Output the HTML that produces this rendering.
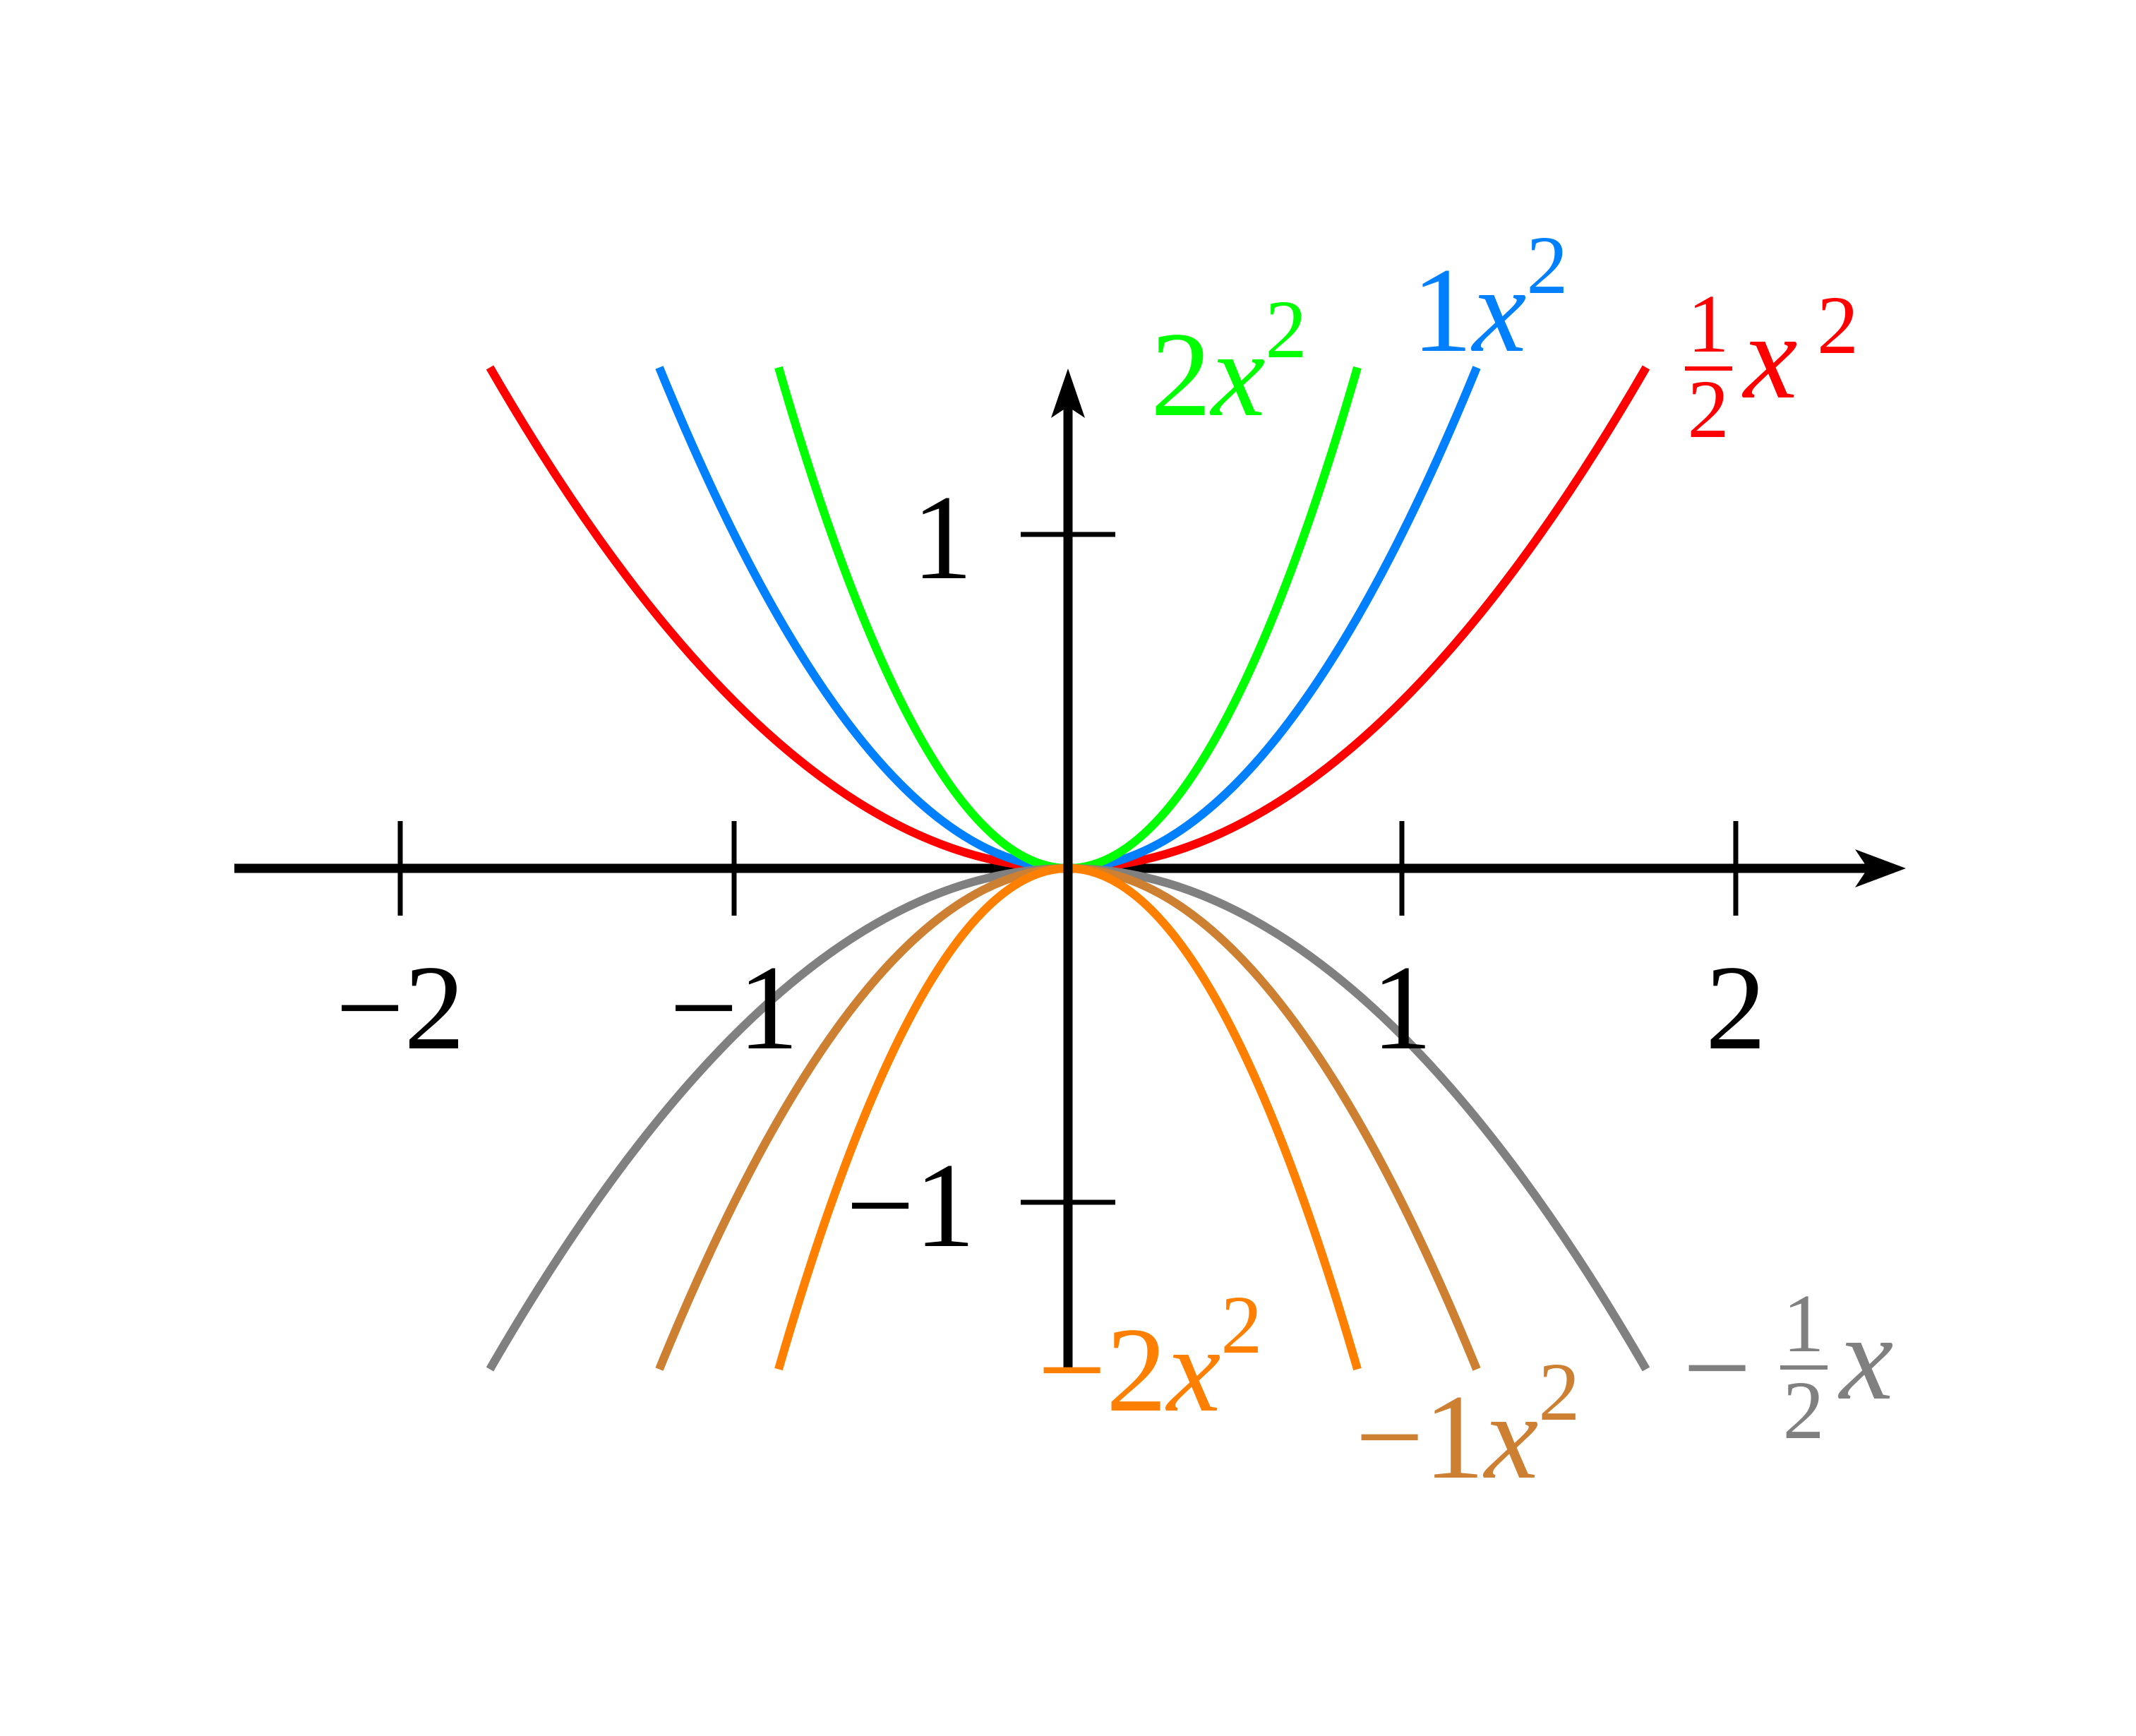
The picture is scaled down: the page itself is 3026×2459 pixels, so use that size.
<!DOCTYPE html>
<html><head><meta charset="utf-8"><style>html,body{margin:0;padding:0;background:#fff}svg{display:block}text{font-family:"Liberation Serif",serif}</style></head><body>
<svg width="3026" height="2459" viewBox="0 0 3026 2459" xmlns="http://www.w3.org/2000/svg">
<rect width="3026" height="2459" fill="#fff"/>
<!-- x axis -->
<line x1="332" y1="1230" x2="2670" y2="1230" stroke="#000" stroke-width="13"/>
<path d="M2700 1230 L2628 1203 L2646 1230 L2628 1257 Z" fill="#000"/>
<g stroke="#000" stroke-width="7">
<line x1="567" y1="1163" x2="567" y2="1297"/>
<line x1="1040" y1="1163" x2="1040" y2="1297"/>
<line x1="1986" y1="1163" x2="1986" y2="1297"/>
<line x1="2459" y1="1163" x2="2459" y2="1297"/>
<line x1="1446" y1="757" x2="1580" y2="757"/>
<line x1="1446" y1="1703" x2="1580" y2="1703"/>
</g>
<!-- curves -->
<g fill="none" stroke-width="12">
<path d="M694 520.5 Q1513 1939.5 2332 520.5" stroke="#ff0000"/>
<path d="M934 520.5 Q1513 1939.5 2092 520.5" stroke="#0080ff"/>
<path d="M1103 520.5 Q1513 1939.5 1923 520.5" stroke="#00ff00"/>
<path d="M694 1939.5 Q1513 520.5 2332 1939.5" stroke="#808080"/>
<path d="M934 1939.5 Q1513 520.5 2092 1939.5" stroke="#cd7f32"/>
<path d="M1103 1939.5 Q1513 520.5 1923 1939.5" stroke="#ff8000"/>
</g>
<!-- y axis -->
<line x1="1513" y1="1938" x2="1513" y2="560" stroke="#000" stroke-width="13"/>
<path d="M1513 522 L1489 592 L1513 576 L1537 592 Z" fill="#000"/>
<!-- tick labels -->
<g font-size="172" fill="#000" text-anchor="middle">
<text x="567" y="1485">−2</text>
<text x="1040" y="1485">−1</text>
<text x="1986" y="1485">1</text>
<text x="2459" y="1485">2</text>
<text x="1335" y="819">1</text>
<text x="1290" y="1765">−1</text>
</g>
<!-- curve labels -->
<g font-size="172">
<text x="1630" y="588" fill="#00ff00">2<tspan font-style="italic">x</tspan><tspan font-size="118" dy="-82">2</tspan></text>
<text x="2000" y="497" fill="#0080ff">1<tspan font-style="italic">x</tspan><tspan font-size="118" dy="-82">2</tspan></text>
<g fill="#ff0000">
<text x="2420" y="498" font-size="118" text-anchor="middle">1</text>
<rect x="2387" y="519" width="67" height="6"/>
<text x="2420" y="619" font-size="118" text-anchor="middle">2</text>
<text x="2470" y="563" font-style="italic">x</text>
<text x="2574" y="500" font-size="118">2</text>
</g>
<text x="1470" y="1998" fill="#ff8000">−2<tspan font-style="italic">x</tspan><tspan font-size="118" dy="-82">2</tspan></text>
<text x="1920" y="2093" fill="#cd7f32">−1<tspan font-style="italic">x</tspan><tspan font-size="118" dy="-82">2</tspan></text>
<g fill="#808080">
<text x="2384" y="1995">−</text>
<text x="2555" y="1914" font-size="118" text-anchor="middle">1</text>
<rect x="2522" y="1934" width="67" height="6"/>
<text x="2555" y="2037" font-size="118" text-anchor="middle">2</text>
<text x="2606" y="1981" font-style="italic">x</text>
</g>
</g>
</svg>
</body></html>
